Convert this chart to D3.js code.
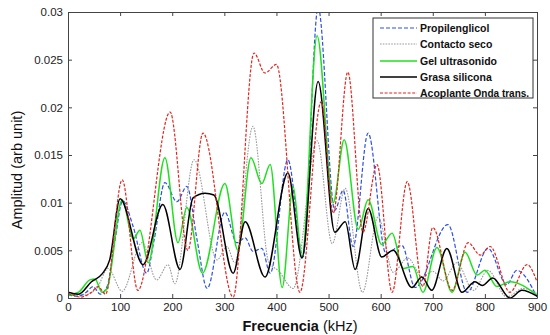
<!DOCTYPE html>
<html>
<head>
<meta charset="utf-8">
<script src="https://cdn.jsdelivr.net/npm/d3@7"></script>
<style>
  html, body { margin: 0; padding: 0; background: #fff; }
  svg { display: block; font-family: "Liberation Sans", Arial, sans-serif; }
</style>
</head>
<body>
<svg id="chart" width="550" height="335"></svg>
<script>
// ---- data (frequency kHz, amplitude) ----
const xTicks = [0, 100, 200, 300, 400, 500, 600, 700, 800, 900];
const yTicks = [0, 0.005, 0.01, 0.015, 0.02, 0.025, 0.03];
const yTickLabels = ["0", "0.005", "0.01", "0.015", "0.02", "0.025", "0.03"];

const propilenglicol = [[0,0.0003],[20,0.0002],[35,0.0006],[48,0.0012],[62,0.0004],[75,0.0012],[90,0.006],[105,0.0102],[125,0.0075],[151,0.0026],[165,0.006],[186,0.0121],[209,0.0101],[228,0.0117],[248,0.006],[267,0.0010],[301,0.009],[324,0.0058],[340,0.0063],[355,0.0049],[372,0.0052],[388,0.0026],[422,0.0145],[451,0.0043],[480,0.0305],[512,0.0092],[528,0.0113],[547,0.0054],[576,0.0173],[610,0.0047],[641,0.0055],[666,0.0011],[729,0.0077],[766,0.0006],[806,0.0052],[842,0.0014],[861,0.0029],[900,0.0001]];

const contactoSeco = [[0,0.0005],[30,0.0003],[55,0.001],[77,0.0031],[104,0.0007],[142,0.0058],[170,0.0019],[192,0.0035],[205,0.0015],[242,0.0145],[286,0.004],[305,0.0054],[320,0.0037],[355,0.018],[385,0.0038],[405,0.0028],[432,0.001],[478,0.0165],[507,0.0057],[532,0.0115],[565,0.0006],[595,0.0085],[624,0.0027],[652,0.0042],[680,0.0022],[700,0.0028],[720,0.0018],[746,0.0037],[778,0.0008],[806,0.0029],[842,0.0001],[873,0.001],[900,0.0005]];

const gelUltrasonido = [[0,0.0003],[20,0.0006],[42,0.0019],[52,0.002],[65,0.0006],[75,0.001],[104,0.0103],[125,0.0062],[138,0.0071],[154,0.0037],[186,0.0147],[211,0.0058],[228,0.0095],[258,0.0026],[301,0.012],[326,0.005],[351,0.0147],[372,0.012],[388,0.014],[411,0.0011],[432,0.0117],[449,0.0043],[478,0.0275],[509,0.0100],[530,0.0166],[557,0.0072],[576,0.0103],[602,0.0056],[622,0.0068],[643,0.0031],[662,0.0033],[681,0.0006],[708,0.0053],[737,0.0006],[762,0.0048],[785,0.0024],[800,0.0029],[823,0.0012],[848,0.0017],[900,0.0003]];

const grasaSilicona = [[0,0.0006],[20,0.0004],[45,0.0017],[65,0.0025],[80,0.004],[100,0.0104],[144,0.0035],[182,0.0098],[215,0.003],[240,0.0105],[263,0.011],[280,0.0108],[317,0.0026],[340,0.008],[378,0.0022],[422,0.0131],[449,0.0042],[480,0.0227],[512,0.0069],[532,0.008],[551,0.003],[576,0.0094],[602,0.0043],[624,0.005],[660,0.0011],[679,0.0022],[698,0.0008],[727,0.0052],[756,0.0006],[781,0.0017],[795,0.0013],[815,0.0021],[848,0.0000],[871,0.0008],[900,0.0002]];

const acoplante = [[0,0.0005],[25,0.0001],[45,0.0006],[58,0.0012],[72,0.0004],[104,0.0124],[134,0.0008],[196,0.0195],[230,0.005],[259,0.0173],[317,0.0001],[357,0.0257],[378,0.0236],[400,0.0245],[445,0.0006],[486,0.0206],[509,0.0089],[537,0.0237],[566,0.0069],[593,0.014],[622,0.0006],[651,0.0122],[681,0.0012],[700,0.0074],[737,0.0008],[768,0.0058],[791,0.0045],[810,0.0054],[848,0.0006],[881,0.0035],[900,0.0017]];

const seriesNames = ["Propilenglicol", "Contacto seco", "Gel ultrasonido", "Grasa silicona", "Acoplante"];
const seriesData = [propilenglicol, contactoSeco, gelUltrasonido, grasaSilicona, acoplante];

// ---- styles ----
const styles = [
  { color: "#2c4fe6", width: 1.2, dash: "4,2" },
  { color: "#9a9a9a", width: 1.1, dash: "1.6,1.2" },
  { color: "#1fe01f", width: 1.5, dash: null },
  { color: "#000000", width: 1.5, dash: null },
  { color: "#e3241c", width: 1.2, dash: "3,1.6" }
];

const svg = d3.select("#chart");
const m = { left: 68, right: 537, top: 12, bottom: 298 };

const x = d3.scaleLinear().domain([0, 900]).range([m.left, m.right]);
const y = d3.scaleLinear().domain([0, 0.03]).range([m.bottom, m.top]);

svg.append("defs").append("clipPath").attr("id", "clip")
  .append("rect").attr("x", m.left).attr("y", m.top)
  .attr("width", m.right - m.left).attr("height", m.bottom - m.top);

svg.append("rect").attr("x", m.left).attr("y", m.top)
  .attr("width", m.right - m.left).attr("height", m.bottom - m.top)
  .attr("fill", "#fff");

const line = d3.line().x(d => x(d[0])).y(d => y(d[1])).curve(d3.curveMonotoneX);

const g = svg.append("g").attr("clip-path", "url(#clip)");
seriesData.forEach((data, i) => {
  const s = styles[i];
  g.append("path").datum(data)
    .attr("d", line)
    .attr("fill", "none")
    .attr("stroke", s.color)
    .attr("stroke-width", s.width)
    .attr("stroke-dasharray", s.dash);
});

// ---- axes ----
const axisColor = "#444";
const fmtY = (d, i) => yTickLabels[yTicks.indexOf(d)];

const xAxis = svg.append("g").attr("transform", `translate(0,${m.bottom})`)
  .call(d3.axisBottom(x).tickValues(xTicks).tickSize(-4).tickSizeOuter(0).tickPadding(5));
const yAxis = svg.append("g").attr("transform", `translate(${m.left},0)`)
  .call(d3.axisLeft(y).tickValues(yTicks).tickFormat(fmtY).tickSize(-4).tickSizeOuter(0).tickPadding(5));
const xTop = svg.append("g").attr("transform", `translate(0,${m.top})`)
  .call(d3.axisTop(x).tickValues(xTicks).tickFormat("").tickSize(-4).tickSizeOuter(0));
const yRight = svg.append("g").attr("transform", `translate(${m.right},0)`)
  .call(d3.axisRight(y).tickValues(yTicks).tickFormat("").tickSize(-4).tickSizeOuter(0));

[xAxis, yAxis, xTop, yRight].forEach(a => {
  a.selectAll("path, line").attr("stroke", axisColor);
  a.selectAll("text").attr("fill", "#222").style("font-size", "11.5px")
    .style("font-family", '"Liberation Sans", Arial, sans-serif');
});

// ---- axis titles ----
const xt = svg.append("text").attr("x", 300).attr("y", 331).attr("text-anchor", "middle")
  .attr("fill", "#111").style("font-size", "14.5px");
xt.append("tspan").attr("font-weight", "bold").text("Frecuencia");
xt.append("tspan").text(" (kHz)");

svg.append("text").attr("transform", "translate(22,170) rotate(-90)")
  .attr("text-anchor", "middle").attr("fill", "#111").style("font-size", "14.5px")
  .text("Amplitud  (arb unit)");

// ---- legend ----
const lg = svg.append("g");
lg.append("rect").attr("x", 373).attr("y", 18).attr("width", 160).attr("height", 80)
  .attr("fill", "#fff").attr("stroke", "#333").attr("stroke-width", 1);
const legendY = [28, 44, 61, 77, 93];
seriesNames.forEach((name, i) => {
  const s = styles[i];
  lg.append("line").attr("x1", 380).attr("x2", 417).attr("y1", legendY[i]).attr("y2", legendY[i])
    .attr("stroke", s.color).attr("stroke-width", s.width).attr("stroke-dasharray", s.dash);
  const t = lg.append("text").attr("x", 420).attr("y", legendY[i] + 4)
    .attr("fill", "#111").attr("font-weight", "bold").style("font-size", "10.5px").text(name);
  if (i === 4) {
    t.append("tspan").style("font-size", "10px").text(" Onda trans.");
  }
});
</script>
</body>
</html>
